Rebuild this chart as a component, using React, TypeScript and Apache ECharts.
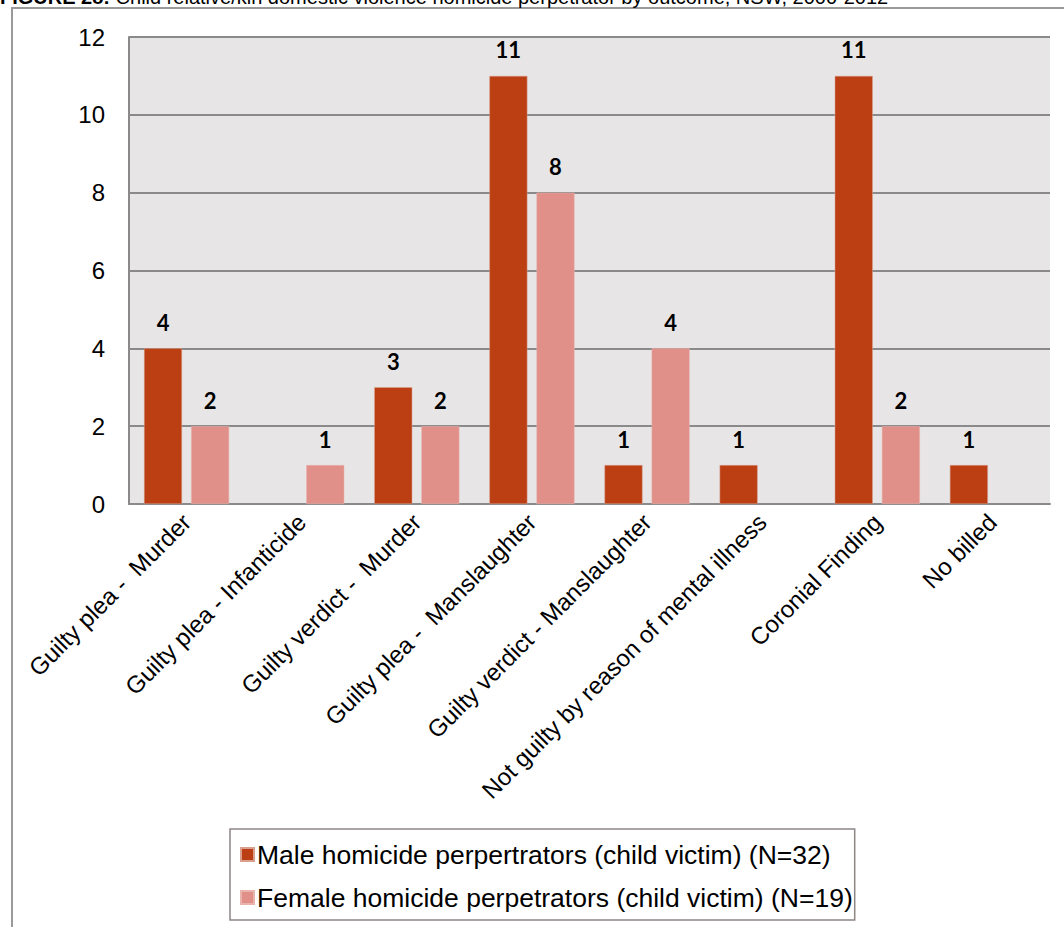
import React, { useEffect, useRef } from "react";
import * as echarts from "echarts";

const categories = [
  "Guilty plea -  Murder",
  "Guilty plea - Infanticide",
  "Guilty verdict -  Murder",
  "Guilty plea -  Manslaughter",
  "Guilty verdict - Manslaughter",
  "Not guilty by reason of mental illness",
  "Coronial Finding",
  "No billed",
];
const maleValues: (number | string)[] = [4, "-", 3, 11, 1, 1, 11, 1];
const femaleValues: (number | string)[] = [2, 1, 2, 8, 4, "-", 2, "-"];
const seriesNames = [
  "Male homicide perpertrators (child victim) (N=32)",
  "Female homicide perpetrators (child victim) (N=19)",
];
const yTicks = { min: 0, max: 12, interval: 2 };
const titleBold = "FIGURE 28:";
const titleRest = " Child relative/kin domestic violence homicide perpetrator by outcome, NSW, 2000-2012";

export default function App() {
  const ref = useRef<HTMLDivElement>(null);
  useEffect(() => {
    if (!ref.current) return;
    const chart = echarts.init(ref.current, undefined, { renderer: "svg" });
    const labelStyle = {
      show: true,
      position: "top",
      distance: 15,
      fontFamily: "Lato",
      fontWeight: "bold",
      fontSize: 22,
      color: "#000",
    };
    chart.setOption({
      animation: false,
      backgroundColor: "#fff",
      graphic: [
        {
          type: "rect",
          shape: { x: 12, y: 8, width: 1200, height: 1100 },
          style: { fill: "none", stroke: "#9a9a9a", lineWidth: 2 },
          z: 0,
        },
        {
          type: "text",
          x: 0,
          y: 7,
          style: {
            text: "{b|" + titleBold + "}{r|" + titleRest + "}",
            verticalAlign: "bottom",
            rich: {
              b: { fontFamily: "Liberation Sans", fontWeight: "bold", fontSize: 20, fill: "#000" },
              r: { fontFamily: "Liberation Sans", fontSize: 20, fill: "#000" },
            },
          },
        },
      ],
      grid: {
        left: 129,
        top: 37,
        width: 921,
        height: 467,
        show: true,
        backgroundColor: "#e7e5e6",
        borderWidth: 0,
      },
      legend: {
        orient: "vertical",
        left: 230,
        top: 829,
        padding: [12, 2, 9, 10],
        itemGap: 16,
        itemWidth: 13,
        itemHeight: 13,
        borderColor: "#8e8585",
        borderWidth: 1.5,
        icon: "rect",
        textStyle: { fontFamily: "Liberation Sans", fontSize: 26.5, color: "#000", padding: [0, 0, 0, -2] },
        data: seriesNames,
      },
      xAxis: {
        type: "category",
        data: categories,
        axisLine: { show: true, lineStyle: { color: "#8a8a8a", width: 2 } },
        axisTick: { show: false },
        axisLabel: {
          rotate: 45,
          interval: 0,
          margin: 14,
          fontFamily: "Liberation Sans",
          fontSize: 24,
          color: "#000",
        },
      },
      yAxis: {
        type: "value",
        min: yTicks.min,
        max: yTicks.max,
        interval: yTicks.interval,
        axisLine: { show: true, lineStyle: { color: "#8a8a8a", width: 2 } },
        axisTick: { show: false },
        splitLine: { show: true, lineStyle: { color: "#8a8a8a", width: 2 } },
        axisLabel: {
          margin: 24,
          fontFamily: "Liberation Sans",
          fontSize: 24,
          color: "#000",
        },
      },
      series: [
        {
          name: seriesNames[0],
          type: "bar",
          data: maleValues,
          barWidth: 38,
          barGap: "24%",
          itemStyle: { color: "#bc3f14", borderColor: "#d9a090", borderWidth: 0.5 },
          label: labelStyle,
        },
        {
          name: seriesNames[1],
          type: "bar",
          data: femaleValues,
          barWidth: 38,
          itemStyle: { color: "#e08f89", borderColor: "#eab4ae", borderWidth: 0.5 },
          label: labelStyle,
        },
      ],
    });
    return () => chart.dispose();
  }, []);
  return (
    <div
      ref={ref}
      style={{ position: "fixed", left: 0, top: 0, width: 1064, height: 927 }}
    />
  );
}
